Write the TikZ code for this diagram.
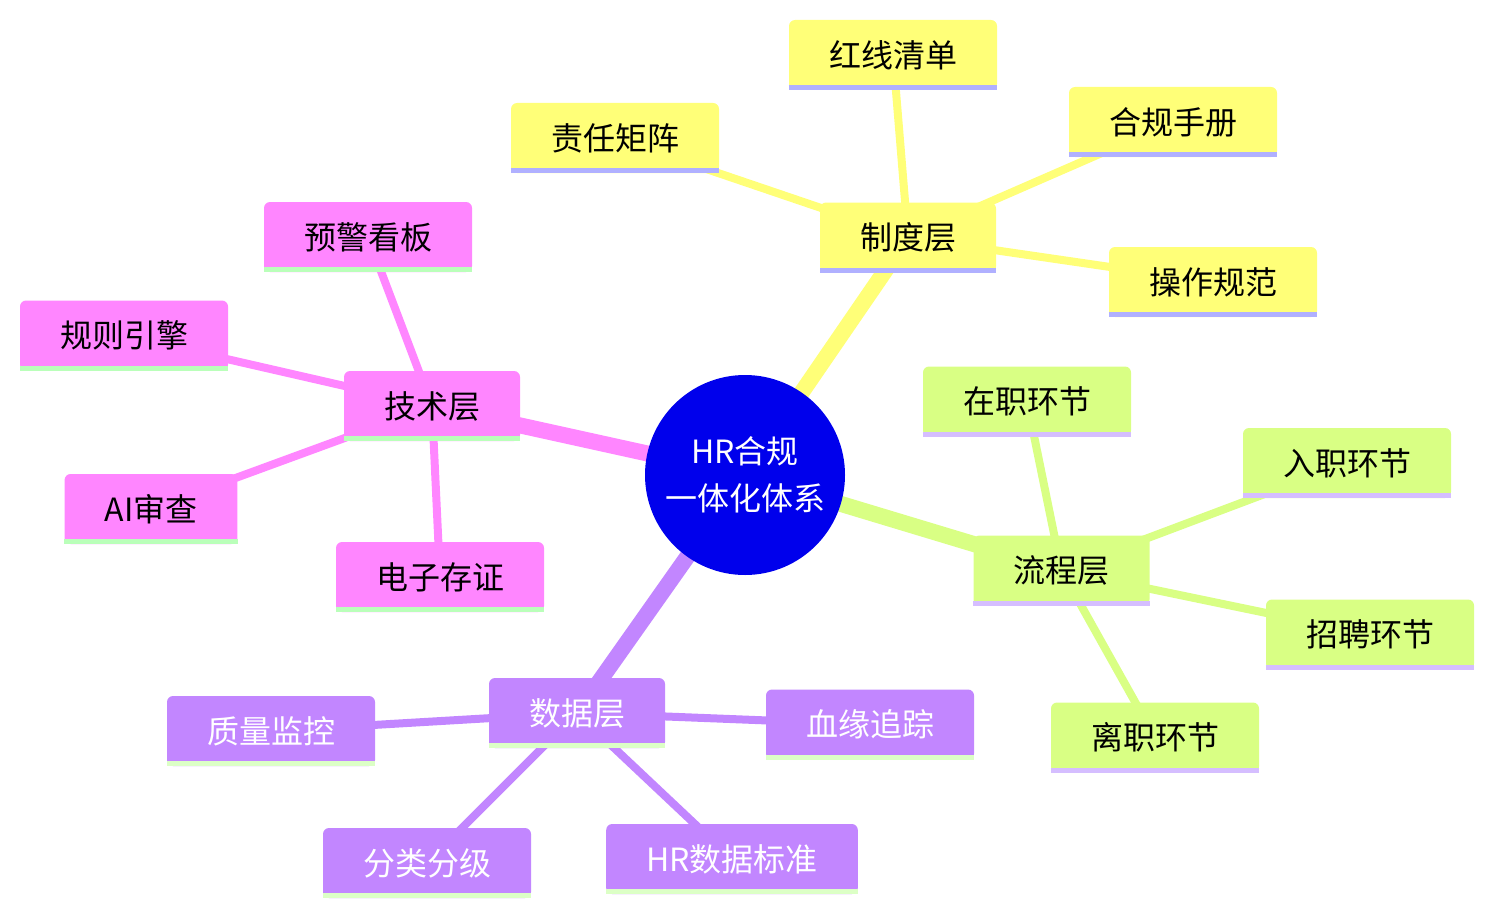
\documentclass[tikz,border=0pt]{standalone}
\usepackage{fontspec}
\setmainfont{Noto Sans CJK SC}
\pgfdeclarelayer{bg}
\pgfsetlayers{bg,main}
\definecolor{cY}{RGB}{255,255,120}
\definecolor{cYb}{RGB}{176,176,255}
\definecolor{cG}{RGB}{217,255,132}
\definecolor{cGb}{RGB}{213,190,255}
\definecolor{cP}{RGB}{194,134,255}
\definecolor{cPb}{RGB}{220,255,198}
\definecolor{cK}{RGB}{255,134,255}
\definecolor{cKb}{RGB}{186,255,186}
\definecolor{cRoot}{RGB}{0,0,236}
\newcommand\mmbox[6]{%
  \node[mm, fill=#3, text=#5] (#1) at #2 {#6};
  \fill[#4] ([yshift=5pt]#1.south west) rectangle (#1.south east);
}
\begin{document}
\begin{tikzpicture}[x=1pt,y=-1pt,
  mm/.style={rectangle, rounded corners=6pt, minimum height=70pt, inner xsep=40pt, inner ysep=0pt,
    font=\fontsize{32}{38}\selectfont},
  rootnode/.style={circle, fill=cRoot, minimum size=200pt, inner sep=0pt, text=white, align=center,
    font=\fontsize{32}{47}\selectfont},
  trunk/.style={line width=16pt},
  twig/.style={line width=8pt}]
\useasboundingbox (0,0) rectangle (1493,915);

\node[rootnode] (root) at (745,475) {HR合规\\一体化体系};

% yellow section
\mmbox{zhidu}{(908,237.5)}{cY}{cYb}{black}{制度层}
\mmbox{hongxian}{(893,55)}{cY}{cYb}{black}{红线清单}
\mmbox{heguishouce}{(1173,122)}{cY}{cYb}{black}{合规手册}
\mmbox{zeren}{(615,138)}{cY}{cYb}{black}{责任矩阵}
\mmbox{caozuo}{(1213,282)}{cY}{cYb}{black}{操作规范}

% green section
\mmbox{liucheng}{(1061.5,570.5)}{cG}{cGb}{black}{流程层}
\mmbox{zaizhi}{(1027,401.5)}{cG}{cGb}{black}{在职环节}
\mmbox{ruzhi}{(1347,463)}{cG}{cGb}{black}{入职环节}
\mmbox{zhaopin}{(1370,634.5)}{cG}{cGb}{black}{招聘环节}
\mmbox{lizhi}{(1155,737.5)}{cG}{cGb}{black}{离职环节}

% purple section
\mmbox{shuju}{(577,713)}{cP}{cPb}{white}{数据层}
\mmbox{zhiliang}{(271,731)}{cP}{cPb}{white}{质量监控}
\mmbox{xueyuan}{(870,724.5)}{cP}{cPb}{white}{血缘追踪}
\mmbox{fenlei}{(427,863)}{cP}{cPb}{white}{分类分级}
\mmbox{biaozhun}{(732,859)}{cP}{cPb}{white}{HR数据标准}

% pink section
\mmbox{jishu}{(432,406)}{cK}{cKb}{black}{技术层}
\mmbox{yujing}{(368,237)}{cK}{cKb}{black}{预警看板}
\mmbox{guize}{(124,335.5)}{cK}{cKb}{black}{规则引擎}
\mmbox{aishen}{(151,509)}{cK}{cKb}{black}{AI审查}
\mmbox{cunzheng}{(440,577)}{cK}{cKb}{black}{电子存证}

\begin{pgfonlayer}{bg}
  \draw[trunk, cY] (root.center) -- (zhidu.center);
  \draw[trunk, cG] (root.center) -- (liucheng.center);
  \draw[trunk, cP] (root.center) -- (shuju.center);
  \draw[trunk, cK] (root.center) -- (jishu.center);
  \foreach \n in {hongxian,heguishouce,zeren,caozuo} \draw[twig, cY] (zhidu.center) -- (\n.center);
  \foreach \n in {zaizhi,ruzhi,zhaopin,lizhi} \draw[twig, cG] (liucheng.center) -- (\n.center);
  \foreach \n in {zhiliang,xueyuan,fenlei,biaozhun} \draw[twig, cP] (shuju.center) -- (\n.center);
  \foreach \n in {yujing,guize,aishen,cunzheng} \draw[twig, cK] (jishu.center) -- (\n.center);
\end{pgfonlayer}
\end{tikzpicture}
\end{document}
